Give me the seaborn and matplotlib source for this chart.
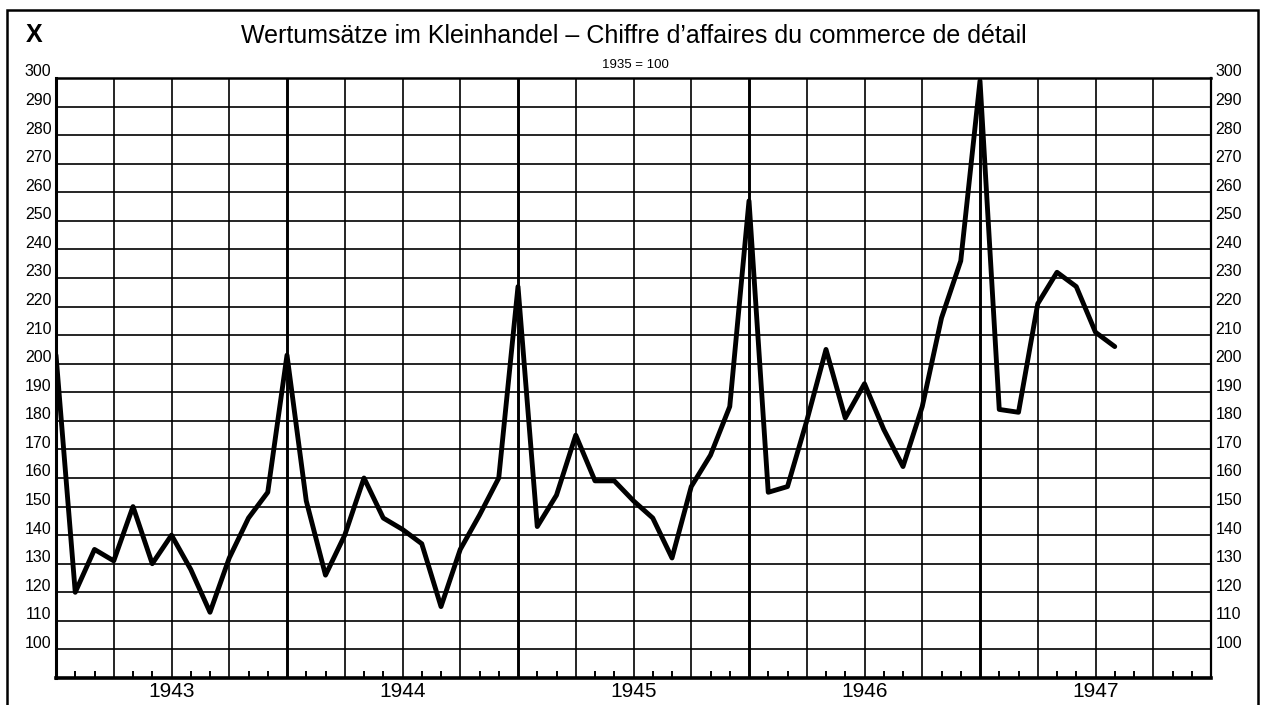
import numpy as np
import pandas as pd
import matplotlib
matplotlib.use("Agg")
from matplotlib import pyplot as plt
from matplotlib.patches import Rectangle
import seaborn as sns

# Monatswerte Dez. 1942 - Jul. 1947 (1935 = 100)
values = [203, 120, 135, 131, 150, 130, 140, 128, 113, 132, 146, 155,
          203, 152, 126, 140, 160, 146, 142, 137, 115, 135, 147, 160,
          227, 143, 154, 175, 159, 159, 152, 146, 132, 157, 168, 185,
          257, 155, 157, 180, 205, 181, 193, 177, 164, 185, 216, 236,
          299, 184, 183, 221, 232, 227, 211, 206]
years = ["1943", "1944", "1945", "1946", "1947"]
y_ticks = list(range(100, 310, 10))

title = "Wertumsätze im Kleinhandel – Chiffre d’affaires du commerce de détail"
subtitle = "1935 = 100"

df = pd.DataFrame({"monat": np.arange(len(values)), "wert": values})

sns.set_style("white")
plt.rcParams["font.family"] = ["Liberation Sans", "DejaVu Sans"]
plt.rcParams["text.color"] = "black"

fig = plt.figure(figsize=(12.67, 7.05), dpi=100)
ax = fig.add_axes([56 / 1267, 27 / 705, 1155 / 1267, 600 / 705])

n_months = 12 * len(years)
ax.set_xlim(0, n_months)
ax.set_ylim(90, 300)

# Raster
for v in y_ticks[:-1]:
    ax.axhline(v, color="black", lw=1.2, zorder=1)
for m in range(3, n_months, 3):
    ax.axvline(m, color="black", lw=2.1 if m % 12 == 0 else 1.2, zorder=1)

sns.lineplot(data=df, x="monat", y="wert", color="black", linewidth=3.5,
             ax=ax, zorder=3, solid_joinstyle="round")

# Monatsstriche unten
ax.set_xticks([m for m in range(1, n_months) if m % 3 != 0], minor=True)
ax.set_xticks([])
ax.tick_params(axis="x", which="minor", direction="in", length=5, width=1.4,
               color="black", bottom=True)
ax.set_yticks([])
ax.set_xlabel("")
ax.set_ylabel("")

for side, lw in [("left", 2.2), ("bottom", 2.6), ("right", 1.6), ("top", 1.8)]:
    ax.spines[side].set_visible(True)
    ax.spines[side].set_color("black")
    ax.spines[side].set_linewidth(lw)

# Skalen links und rechts
for v in y_ticks:
    ax.text(-0.004, v - 0.5, str(v), transform=ax.get_yaxis_transform(),
            ha="right", va="bottom", fontsize=11.5, color="black")
    ax.text(1.004, v - 0.5, str(v), transform=ax.get_yaxis_transform(),
            ha="left", va="bottom", fontsize=11.5, color="black")

# Jahre
for i, yr in enumerate(years):
    ax.text(12 * i + 6, -0.007, yr, transform=ax.get_xaxis_transform(),
            ha="center", va="top", fontsize=15, color="black")

fig.text(634 / 1267, 1 - 43 / 705, title, ha="center", va="baseline",
         fontsize=18, color="black")
fig.text(635 / 1267, 1 - 68 / 705, subtitle, ha="center", va="baseline",
         fontsize=9.5, color="black")
fig.text(34 / 1267, 1 - 42 / 705, "X", ha="center", va="baseline",
         fontsize=18, fontweight="bold", color="black")

# Rahmen
fig.add_artist(Rectangle((7 / 1267, -0.05), 1251 / 1267, 1.05 - 10 / 705,
                         transform=fig.transFigure, fill=False,
                         edgecolor="black", lw=1.8))

fig.savefig("out.png", dpi=100, facecolor="white")
